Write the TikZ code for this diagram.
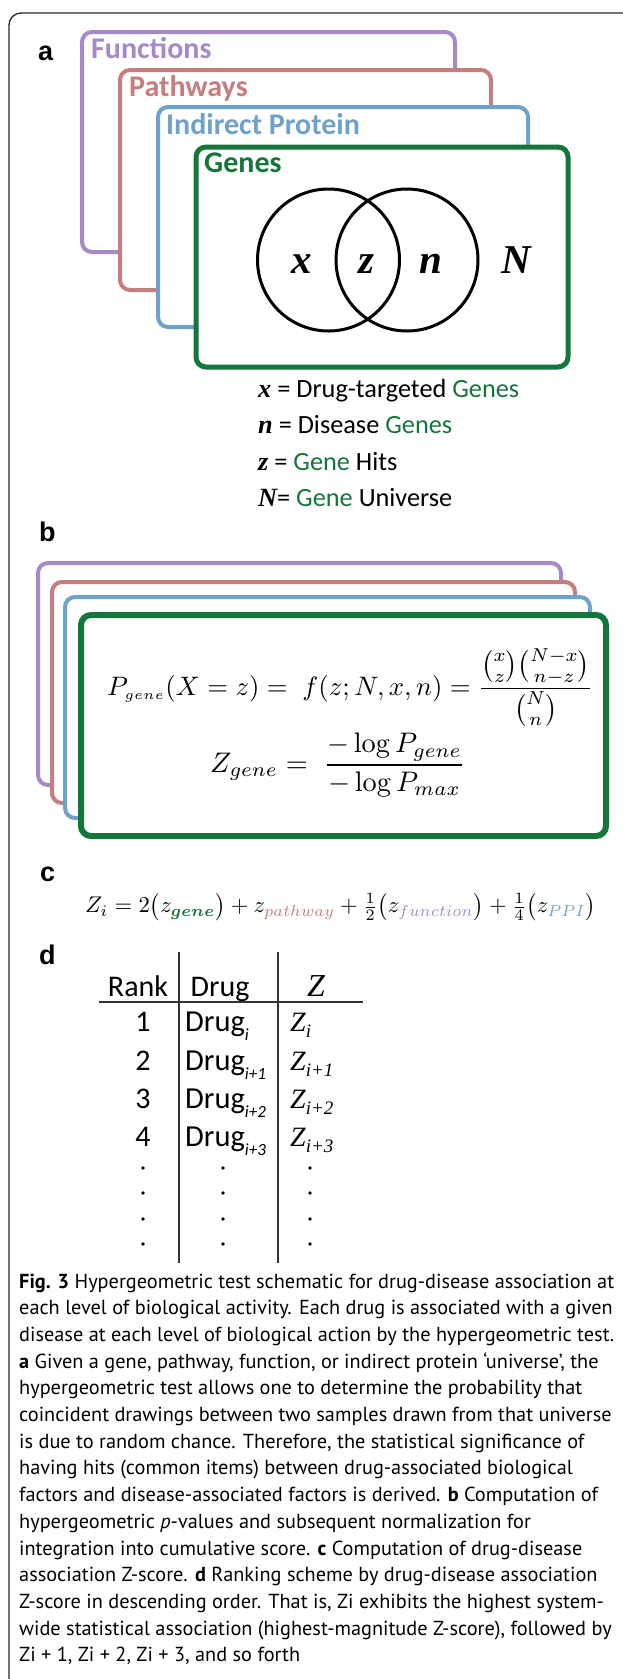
\documentclass[tikz,border=0pt]{standalone}
\usepackage{amsmath}
\usepackage{graphicx}
\usepackage[no-math]{fontspec}
\setmainfont{Carlito}
\newfontfamily\capfont{PT Sans}
\newfontfamily\labfont{Liberation Sans}
\newfontfamily\serfont{Liberation Serif}
\definecolor{cpurple}{RGB}{166,138,200}
\definecolor{cpink}{RGB}{196,126,126}
\definecolor{cblue}{RGB}{110,162,200}
\definecolor{cgreen}{RGB}{20,118,58}
\newcommand{\dsub}[1]{\raisebox{-0.32em}{\fontsize{17}{17}\selectfont\itshape #1}}
\newcommand{\zsub}[1]{\raisebox{-0.22em}{\fontsize{19}{19}\selectfont\serfont\itshape #1}}
\begin{document}
\begin{tikzpicture}[x=1pt,y=-1pt,
  boxA/.style={line width=4pt, rounded corners=10pt, fill=white},
  boxB/.style={line width=4pt, rounded corners=10pt, fill=white},
  plab/.style={anchor=base west, inner sep=0pt, font=\labfont\bfseries\fontsize{27}{30}\selectfont},
  blab/.style={anchor=base west, inner sep=0pt, font=\bfseries\fontsize{30}{34}\selectfont},
  vlab/.style={anchor=base, inner sep=0pt, font=\serfont\bfseries\itshape\fontsize{41}{44}\selectfont},
  vennline/.style={line width=3pt, draw=black},
  legtxt/.style={anchor=base west, inner sep=0pt, font=\fontsize{26.3}{30}\selectfont},
  tabtxt/.style={anchor=base, inner sep=0pt, font=\fontsize{30}{34}\selectfont},
  tabl/.style={anchor=base west, inner sep=0pt, font=\fontsize{30.5}{34}\selectfont},
  tline/.style={line width=1.8pt, draw=black!80},
  captxt/.style={anchor=base west, inner sep=0pt, font=\capfont\fontsize{20.3}{24}\selectfont},
  fml/.style={anchor=west, inner sep=0pt},
  fmlb/.style={anchor=base west, inner sep=0pt}
]
\useasboundingbox (0,0) rectangle (623,1679);
\begin{scope}
  \clip (0,0) rectangle (623,1679);
  \draw[line width=1.3pt, draw=black!85, rounded corners=12pt] (9,13) rectangle (700,1730);
\end{scope}

% panel labels
\node[plab] (la) at (38,60) {a};
\node[plab] (lb) at (39,541) {b};
\node[plab] (lc) at (40,881) {c};
\node[plab] (ld) at (39,964) {d};

% panel a boxes
\draw[boxA, draw=cpurple] (82,32) rectangle (455,252);
\node[blab, text=cpurple] (tf) at (91,58) {Functions};
\draw[boxA, draw=cpink] (120,70) rectangle (491,290);
\node[blab, text=cpink] (tp) at (129,96) {Pathways};
\draw[boxA, draw=cblue] (158,107) rectangle (528,327);
\node[blab, text=cblue] (ti) at (166,134) {Indirect Protein};
\draw[boxA, draw=cgreen, line width=5pt] (196,147) rectangle (568,367);
\node[blab, text=cgreen] (tg) at (204,172) {Genes};

% venn
\draw[vennline] (328.5,260) circle[radius=71pt];
\draw[vennline] (407,260) circle[radius=71pt];
\node[vlab] (vx) at (302,273) {x};
\node[vlab] (vz) at (366,273) {z};
\node[vlab] (vn) at (431,273) {n};
\node[vlab] (vN) at (516,273) {N};

% legend
\node[legtxt] (l1) at (258,397) {{\serfont\bfseries\itshape x} = Drug-targeted \textcolor{cgreen}{Genes}};
\node[legtxt] (l2) at (258,433) {{\serfont\bfseries\itshape n} = Disease \textcolor{cgreen}{Genes}};
\node[legtxt] (l3) at (258,470) {{\serfont\bfseries\itshape z} = \textcolor{cgreen}{Gene} Hits};
\node[legtxt] (l4) at (258,506) {{\serfont\bfseries\itshape N}= \textcolor{cgreen}{Gene} Universe};

% panel b boxes
\draw[boxB, draw=cpurple] (38,563) rectangle (561,785);
\draw[boxB, draw=cpink] (52,582) rectangle (575,803);
\draw[boxB, draw=cblue] (65,597) rectangle (590,818);
\draw[boxB, draw=cgreen, line width=6pt] (81,615) rectangle (606,836);

\node[fmlb] (f1) at (107,695) {\resizebox{486pt}{!}{$P_{\scriptscriptstyle gene}(X = z) =\; f(z;N,x,n) = \dfrac{\binom{x}{z}\binom{N-x}{n-z}}{\binom{N}{n}}$}};
\node[fmlb] (f2) at (210,772) {\resizebox{255pt}{!}{$Z_{gene} =\; \dfrac{-\log P_{gene}}{-\log P_{max}}$}};

% panel c
\node[fml] (fc) at (85,907) {\resizebox{511pt}{!}{$Z_i = 2\bigl(z_{\color{cgreen}\boldsymbol{gene}}\bigr) + z_{\color{cpink}pathway} + \tfrac{1}{2}\bigl(z_{\color{cpurple}function}\bigr) + \tfrac{1}{4}\bigl(z_{\color{cblue}PPI}\bigr)$}};

% panel d table
\node[tabtxt] (hr) at (138,996) {Rank};
\node[tabtxt] (hd) at (220,996) {Drug};
\node[tabtxt, font=\serfont\itshape\fontsize{32}{34}\selectfont] (hz) at (316,996) {Z};
\coordinate (hl1) at (99,1002);
\coordinate (hl2) at (363,1002);
\coordinate (va1) at (179,952);
\coordinate (va2) at (179,1263);
\coordinate (vb1) at (278,952);
\coordinate (vb2) at (278,1263);
\draw[tline] (hl1) -- (hl2);
\draw[tline] (va1) -- (va2);
\draw[tline] (vb1) -- (vb2);

\node[tabtxt] (n1) at (143,1031) {1};
\node[tabtxt] (n2) at (143,1070) {2};
\node[tabtxt] (n3) at (143,1108) {3};
\node[tabtxt] (n4) at (143,1146) {4};
\node[tabl] (d1) at (185,1031) {Drug\dsub{i}};
\node[tabl] (d2) at (185,1070) {Drug\dsub{i+1}};
\node[tabl] (d3) at (185,1108) {Drug\dsub{i+2}};
\node[tabl] (d4) at (185,1146) {Drug\dsub{i+3}};
\node[tabl, font=\serfont\itshape\fontsize{28}{30}\selectfont] (z1) at (290,1031) {Z\zsub{i}};
\node[tabl, font=\serfont\itshape\fontsize{28}{30}\selectfont] (z2) at (290,1070) {Z\zsub{i+1}};
\node[tabl, font=\serfont\itshape\fontsize{28}{30}\selectfont] (z3) at (290,1108) {Z\zsub{i+2}};
\node[tabl, font=\serfont\itshape\fontsize{28}{30}\selectfont] (z4) at (290,1146) {Z\zsub{i+3}};
\foreach \yy in {1168,1193,1219,1244}{
  \fill (143,\yy) circle[radius=1.8pt];
  \fill (223,\yy) circle[radius=1.8pt];
  \fill (310,\yy) circle[radius=1.8pt];
}

% caption
\node[captxt] (c1) at (19,1288) {\textbf{Fig. 3} Hypergeometric test schematic for drug-disease association at};
\node[captxt] (c2) at (19,1314.7) {each level of biological activity. Each drug is associated with a given};
\node[captxt] (c3) at (19,1341.4) {disease at each level of biological action by the hypergeometric test.};
\node[captxt] (c4) at (19,1368.1) {\textbf{a} Given a gene, pathway, function, or indirect protein ‘universe’, the};
\node[captxt] (c5) at (19,1394.8) {hypergeometric test allows one to determine the probability that};
\node[captxt] (c6) at (19,1421.5) {coincident drawings between two samples drawn from that universe};
\node[captxt] (c7) at (19,1448.2) {is due to random chance. Therefore, the statistical significance of};
\node[captxt] (c8) at (19,1474.9) {having hits (common items) between drug-associated biological};
\node[captxt] (c9) at (19,1501.6) {factors and disease-associated factors is derived. \textbf{b} Computation of};
\node[captxt] (c10) at (19,1528.3) {hypergeometric \textit{p}-values and subsequent normalization for};
\node[captxt] (c11) at (19,1555) {integration into cumulative score. \textbf{c} Computation of drug-disease};
\node[captxt] (c12) at (19,1581.7) {association Z-score. \textbf{d} Ranking scheme by drug-disease association};
\node[captxt] (c13) at (19,1608.4) {Z-score in descending order. That is, Zi exhibits the highest system-};
\node[captxt] (c14) at (19,1635.1) {wide statistical association (highest-magnitude Z-score), followed by};
\node[captxt] (c15) at (19,1661.8) {Zi + 1, Zi + 2, Zi + 3, and so forth};
\end{tikzpicture}
\end{document}
